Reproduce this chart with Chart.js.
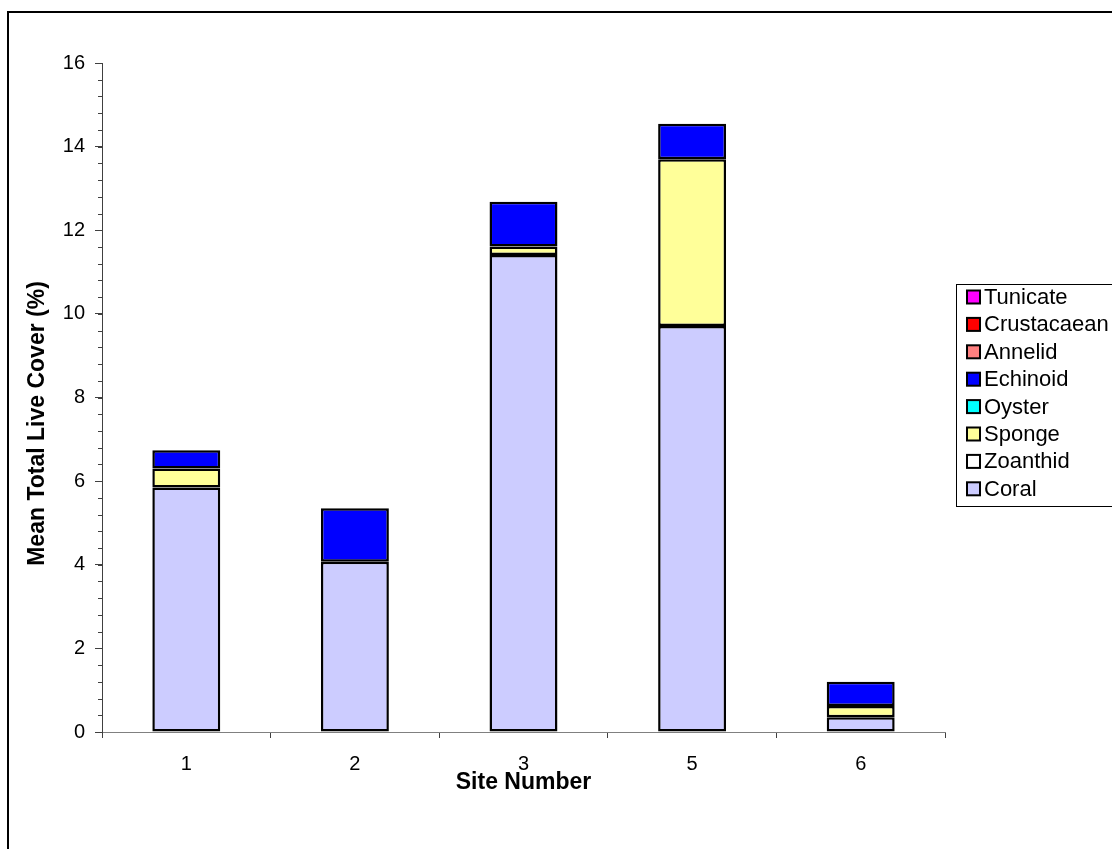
<!DOCTYPE html>
<html>
<head>
<meta charset="utf-8">
<script src="https://cdn.jsdelivr.net/npm/chart.js@4.4.1/dist/chart.umd.min.js"></script>
<style>
  html, body { margin: 0; padding: 0; background: #ffffff; }
  #wrap { width: 1112px; height: 849px; }
</style>
</head>
<body>
<div id="wrap"><canvas id="c" width="1112" height="849"></canvas></div>
<script>
// Sites sampled
const sites = ['1', '2', '3', '5', '6'];

// Mean live cover (%) per taxon at each site
const coral       = [5.85, 4.07, 11.41, 9.71, 0.35];
const zoanthid    = [0, 0, 0, 0, 0];
const sponge      = [0.45, 0, 0.20, 3.99, 0.27];
const oyster      = [0, 0, 0, 0, 0];
const echinoid    = [0.44, 1.28, 1.07, 0.85, 0.58];
const annelid     = [0, 0, 0, 0, 0];
const crustacaean = [0, 0, 0, 0, 0];
const tunicate    = [0, 0, 0, 0, 0];

// Y axis tick labels and minor tick spacing
const yMajorTicks = [0, 2, 4, 6, 8, 10, 12, 14, 16];
const yMinorStep = 0.4;

const yTitle = 'Mean Total Live Cover (%)';
const xTitle = 'Site Number';

const FONT = "'Liberation Sans', Arial, sans-serif";

const series = [
  { label: 'Coral',       data: coral,       color: '#CCCCFF' },
  { label: 'Zoanthid',    data: zoanthid,    color: '#FFFFFF' },
  { label: 'Sponge',      data: sponge,      color: '#FFFF99' },
  { label: 'Oyster',      data: oyster,      color: '#00FFFF' },
  { label: 'Echinoid',    data: echinoid,    color: '#0000FF' },
  { label: 'Annelid',     data: annelid,     color: '#FF8080' },
  { label: 'Crustacaean', data: crustacaean, color: '#FF0000' },
  { label: 'Tunicate',    data: tunicate,    color: '#FF00FF' }
];

// Outer frame of the chart (open on the right and bottom)
const framePlugin = {
  id: 'frame',
  beforeDraw(chart) {
    const ctx = chart.ctx;
    ctx.save();
    ctx.fillStyle = '#ffffff';
    ctx.fillRect(0, 0, chart.width, chart.height);
    ctx.strokeStyle = '#000000';
    ctx.lineWidth = 2;
    ctx.beginPath();
    ctx.moveTo(8, chart.height + 5);
    ctx.lineTo(8, 12);
    ctx.lineTo(chart.width + 5, 12);
    ctx.stroke();
    ctx.restore();
  }
};

// Minor ticks on the value axis and the rotated value-axis title
const yAxisExtrasPlugin = {
  id: 'yAxisExtras',
  afterDraw(chart) {
    const y = chart.scales.y;
    const ctx = chart.ctx;
    const x0 = y.right;
    ctx.save();
    ctx.strokeStyle = '#404040';
    ctx.lineWidth = 1;
    ctx.beginPath();
    const n = Math.round((y.max - y.min) / yMinorStep);
    for (let i = 0; i <= n; i++) {
      const py = Math.round(y.getPixelForValue(y.min + i * yMinorStep)) + 0.5;
      ctx.moveTo(x0 - 4, py);
      ctx.lineTo(x0, py);
    }
    ctx.stroke();

    ctx.translate(38, chart.height / 2 - 1);
    ctx.rotate(-Math.PI / 2);
    ctx.font = "bold 23px " + FONT;
    ctx.fillStyle = '#000000';
    ctx.textAlign = 'center';
    ctx.textBaseline = 'middle';
    ctx.fillText(yTitle, 0, 0);
    ctx.restore();
  }
};

// Boxed legend listed from top series to bottom series
const boxLegendPlugin = {
  id: 'boxLegend',
  afterDraw(chart) {
    const ctx = chart.ctx;
    const area = chart.chartArea;
    const items = series.slice().reverse();
    const left = area.right + 11;
    const rowH = 27.4;
    const midY = (area.top + area.bottom) / 2;
    const top = Math.round(midY - 114);
    const bottom = Math.round(top + items.length * rowH + 3);
    ctx.save();
    ctx.fillStyle = '#ffffff';
    ctx.fillRect(left, top, chart.width - left + 5, bottom - top);
    ctx.strokeStyle = '#000000';
    ctx.lineWidth = 1;
    ctx.strokeRect(left + 0.5, top + 0.5, chart.width, bottom - top);
    ctx.font = "22px " + FONT;
    ctx.textBaseline = 'middle';
    ctx.textAlign = 'left';
    items.forEach((s, i) => {
      const cy = top + 13 + rowH * i;
      ctx.fillStyle = s.color;
      ctx.fillRect(left + 11, cy - 6.5, 13, 13);
      ctx.strokeStyle = '#000000';
      ctx.lineWidth = 2;
      ctx.strokeRect(left + 11, cy - 6.5, 13, 13);
      ctx.fillStyle = '#000000';
      ctx.fillText(s.label, left + 28, cy + 1);
    });
    ctx.restore();
  }
};

const ctx = document.getElementById('c').getContext('2d');
new Chart(ctx, {
  type: 'bar',
  data: {
    labels: sites,
    datasets: series.map(s => ({
      label: s.label,
      data: s.data,
      backgroundColor: s.color,
      borderColor: '#000000',
      borderWidth: 2.5,
      borderSkipped: false,
      barPercentage: 0.403,
      categoryPercentage: 1.0
    }))
  },
  options: {
    responsive: false,
    animation: false,
    events: [],
    layout: { padding: { left: 22, top: 63, right: 167, bottom: 52 } },
    plugins: {
      legend: { display: false },
      tooltip: { enabled: false }
    },
    scales: {
      x: {
        stacked: true,
        afterFit(scale) { scale.height = 65; },
        grid: {
          offset: true,
          drawOnChartArea: false,
          tickLength: 6,
          color: '#404040',
          lineWidth: 1
        },
        border: { display: true, color: '#808080', width: 1 },
        ticks: {
          color: '#000000',
          padding: 14,
          font: { family: FONT, size: 20 }
        },
        title: {
          display: true,
          text: xTitle,
          color: '#000000',
          padding: { top: 0, bottom: 1 },
          font: { family: FONT, size: 23, weight: 'bold' }
        }
      },
      y: {
        stacked: true,
        min: 0,
        max: 16,
        afterFit(scale) { scale.width = 80; },
        afterBuildTicks(scale) {
          scale.ticks = yMajorTicks.map(v => ({ value: v }));
        },
        grid: {
          drawOnChartArea: false,
          tickLength: 7,
          color: '#404040',
          lineWidth: 1
        },
        border: { display: true, color: '#404040', width: 1 },
        ticks: {
          color: '#000000',
          padding: 10,
          font: { family: FONT, size: 20 }
        },
        title: { display: false }
      }
    }
  },
  plugins: [framePlugin, yAxisExtrasPlugin, boxLegendPlugin]
});
</script>
</body>
</html>
